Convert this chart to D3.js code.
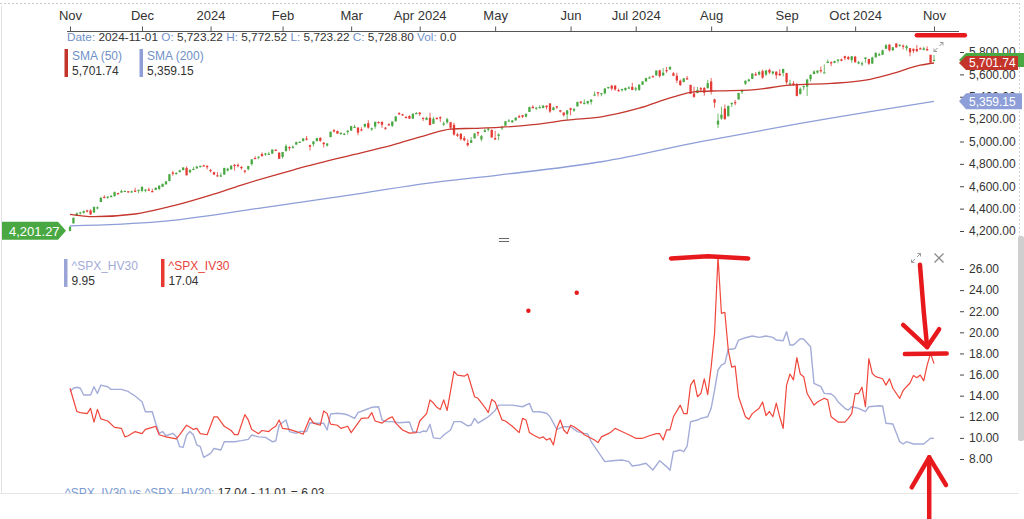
<!DOCTYPE html>
<html><head><meta charset="utf-8">
<script src="https://cdn.jsdelivr.net/npm/d3@7/dist/d3.min.js"></script>
<style>
html,body{margin:0;padding:0;background:#fff;}
svg{display:block;font-family:"Liberation Sans",Arial,Helvetica,sans-serif;}
</style></head><body>
<svg id="chart" width="1024" height="519"></svg>
<script>
// ---------- DATA ----------
// trading-day index of month starts (0 = 2023-11-01, 252 = 2024-11-01)
const monthIdx = [0,21,41,62,82,102,124,146,165,187,209,229,252];
const monthLabels = ["Nov","Dec","2024","Feb","Mar","Apr 2024","May","Jun","Jul 2024","Aug","Sep","Oct 2024","Nov"];
const priceTicks = [4200,4400,4600,4800,5000,5200,5400,5600,5800];
const volTicks = [8,10,12,14,16,18,20,22,24,26];

// ^SPX daily candles, 2023-11-01 .. 2024-11-01
const open = [
4201,4268,4334,4365,4364,4384,4384,4365,4407,4459,4504,4497,4510,4512,4539,4544,4556,4555,4550,4561,4559,
4559,4564,4571,4557,4567,4576,4594,4618,4647,4722,4715,4726,4744,4764,4725,4754,4759,4773,4786,4782,
4745,4726,4698,4690,4704,4741,4751,4792,4791,4772,4740,4753,4797,4853,4856,4888,4886,4888,4892,4926,4899,
4862,4916,4950,4950,4973,4996,5005,5027,4967,4976,5004,5032,4990,4964,5039,5101,5094,5068,5067,5085,
5098,5131,5124,5108,5133,5163,5112,5134,5174,5176,5124,5154,5140,5181,5254,5243,5219,5228,5204,5248,
5258,5212,5194,5212,5158,5211,5217,5161,5172,5172,5149,5064,5068,5031,4987,4988,5028,5084,5019,5085,5114,5103,
5030,5050,5122,5142,5188,5171,5189,5226,5235,5222,5264,5310,5303,5306,5299,5320,5340,5281,5315,5279,5259,5243,
5297,5276,5314,5357,5344,5341,5354,5410,5441,5424,5431,5477,5499,5500,5459,5461,5460,5473,5488,
5471,5461,5507,5537,5573,5584,5591,5636,5590,5638,5644,5610,5588,5544,5531,5566,5506,5429,5433,5477,5478,5476,
5537,5377,5152,5206,5294,5225,5334,5352,5376,5443,5516,5539,5560,5602,5598,5629,5598,5640,5608,5624,5606,5613,
5612,5507,5520,5508,5423,5491,5491,5557,5603,5616,5638,5617,5702,5709,5703,5721,5734,5762,5755,5727,
5758,5698,5689,5738,5737,5696,5752,5779,5775,5829,5866,5816,5876,5860,5857,5833,5834,5829,5826,5833,5819,5826,5775,
5723.22];
const high = [
4246,4320,4366,4372,4383,4391,4394,4419,4421,4505,4521,4511,4521,4553,4542,4569,4560,4557,4562,4587,4569,
4599,4574,4587,4578,4590,4610,4623,4644,4709,4738,4725,4749,4769,4778,4749,4773,4784,4785,4793,4788,
4755,4729,4727,4722,4765,4766,4791,4798,4803,4782,4744,4782,4842,4868,4866,4903,4898,4907,4929,4931,4906,
4907,4975,4958,4965,4999,5000,5030,5049,4971,5002,5033,5039,4993,4984,5089,5111,5098,5081,5077,5104,
5140,5149,5127,5128,5160,5190,5125,5179,5180,5176,5130,5164,5179,5225,5262,5247,5229,5235,5249,5264,
5263,5213,5221,5256,5222,5216,5225,5179,5212,5176,5168,5078,5077,5049,5019,5039,5077,5089,5058,5114,5123,5110,
5096,5073,5140,5181,5200,5192,5215,5239,5238,5251,5311,5325,5305,5325,5324,5324,5342,5311,5316,5281,5260,5280,
5303,5298,5354,5362,5376,5366,5376,5447,5441,5432,5477,5490,5506,5502,5472,5472,5484,5495,5524,
5490,5510,5539,5570,5583,5590,5635,5642,5656,5666,5670,5622,5614,5555,5567,5586,5508,5491,5488,5487,5487,5551,
5567,5383,5250,5312,5330,5320,5351,5371,5435,5463,5546,5562,5609,5620,5633,5643,5641,5651,5628,5628,5646,5651,
5614,5552,5540,5523,5484,5501,5560,5600,5636,5637,5670,5689,5733,5716,5722,5735,5741,5767,5765,5762,
5765,5720,5714,5752,5739,5758,5796,5794,5822,5871,5870,5846,5878,5866,5867,5863,5834,5830,5862,5842,5848,5850,5775,
5772.52];
const low = [
4197,4268,4334,4347,4354,4366,4344,4364,4393,4459,4495,4488,4500,4506,4526,4541,4552,4544,4541,4548,4537,
4547,4546,4560,4548,4565,4565,4594,4611,4643,4694,4705,4725,4743,4697,4716,4746,4758,4768,4780,4751,
4723,4700,4687,4683,4703,4731,4749,4740,4769,4747,4715,4741,4785,4844,4842,4866,4870,4881,4888,4917,4845,
4847,4908,4918,4936,4969,4988,4999,5008,4920,4956,4999,4997,4947,4955,5038,5081,5068,5058,5058,5062,
5094,5127,5057,5092,5123,5114,5095,5114,5161,5124,5105,5143,5130,5176,5240,5229,5216,5203,5204,5246,
5230,5184,5190,5146,5157,5197,5175,5138,5158,5108,5052,5040,5008,5001,4954,4987,5028,5048,5002,5084,5089,5035,
5013,5011,5102,5142,5181,5168,5185,5210,5210,5215,5263,5297,5283,5298,5298,5287,5256,5279,5291,5259,5223,5192,
5234,5265,5312,5335,5331,5331,5330,5405,5403,5404,5420,5471,5456,5454,5447,5446,5452,5471,5460,
5451,5453,5507,5535,5563,5574,5587,5571,5590,5614,5640,5584,5522,5497,5531,5551,5427,5391,5431,5445,5409,5476,
5421,5302,5120,5193,5195,5225,5308,5324,5376,5425,5505,5535,5558,5586,5591,5561,5586,5603,5597,5560,5585,5582,
5511,5504,5498,5403,5422,5459,5406,5535,5601,5605,5614,5616,5700,5674,5700,5703,5717,5727,5727,5704,
5704,5690,5675,5704,5685,5696,5751,5764,5775,5829,5804,5809,5840,5847,5824,5811,5762,5790,5799,5823,5815,5812,5703,
5723.22];
const close = [
4238,4318,4358,4366,4378,4383,4347,4415,4412,4496,4503,4508,4514,4547,4538,4557,4559,4550,4555,4551,4568,
4595,4570,4567,4549,4586,4604,4622,4644,4707,4720,4719,4741,4768,4698,4747,4755,4775,4782,4783,4770,
4743,4705,4689,4697,4764,4757,4783,4780,4784,4766,4739,4781,4840,4850,4865,4869,4894,4891,4928,4925,4846,
4906,4959,4943,4954,4995,4998,5027,5022,4953,5001,5030,5006,4976,4982,5087,5089,5070,5078,5070,5096,
5137,5131,5079,5105,5157,5124,5118,5175,5165,5150,5117,5149,5179,5225,5242,5234,5218,5204,5248,5254,
5244,5206,5211,5147,5204,5202,5210,5161,5199,5123,5062,5051,5022,5011,4967,5011,5071,5072,5048,5100,5116,5036,
5018,5064,5128,5181,5188,5188,5214,5223,5221,5247,5308,5297,5303,5308,5321,5307,5268,5305,5306,5267,5235,5278,
5283,5291,5354,5353,5347,5361,5375,5421,5434,5432,5473,5487,5473,5465,5448,5469,5478,5483,5460,
5475,5509,5537,5567,5573,5577,5634,5585,5615,5631,5667,5588,5545,5505,5564,5556,5427,5399,5459,5464,5436,5522,
5447,5347,5186,5240,5200,5319,5344,5344,5434,5455,5543,5554,5608,5597,5621,5571,5635,5617,5626,5592,5592,5648,
5529,5520,5503,5408,5471,5496,5554,5596,5626,5633,5635,5618,5714,5703,5719,5733,5722,5745,5738,5762,
5709,5710,5700,5751,5696,5751,5792,5780,5815,5860,5815,5842,5841,5865,5854,5851,5797,5810,5808,5824,5833,5814,5705,
5728.80];
const firstOpen = 4201.27;

// moving averages (trading-day index, value)
const sma50Idx = [0,7,19,29,41,50,65,80,94,104,111,118,125,135,145,155,166,176,182,189,198,210,222,232,240,248,252];
const sma50Val = [4349,4328,4352,4417,4521,4611,4745,4863,4968,5057,5111,5118,5126,5150,5191,5221,5298,5399,5444,5453,5459,5504,5519,5548,5608,5682,5701.74];
const sma200Idx = [0,26,55,85,104,125,155,184,213,252];
const sma200Val = [4245,4283,4403,4537,4626,4700,4819,4998,5162,5359.15];

// implied volatility 30d (trading-day index, value)
const ivIdx = [0,2,3,5,6,7,8,9,11,13,15,16,17,19,21,22,24,25,26,28,31,32,34,35,36,37,38,40,42,43,45,47,48,49,51,52,53,55,56,58,59,60,61,62,64,66,68,70,71,73,74,75,76,78,79,81,82,84,85,87,88,89,91,93,94,95,97,99,101,102,104,105,106,107,108,109,110,112,113,114,115,116,118,119,121,122,123,124,126,127,129,131,132,133,134,135,137,138,139,140,141,142,143,144,145,146,147,149,150,153,154,155,157,158,159,160,163,165,167,169,171,172,173,174,175,176,178,179,180,181,182,183,184,185,186,187,188,189,190,191,192,193,194,195,197,198,199,201,202,203,204,205,206,207,208,209,210,211,212,213,214,215,217,218,220,221,222,224,226,227,228,229,230,231,232,233,234,235,237,238,239,240,242,243,245,246,247,248,249,250,251,252];
const ivVal = [14.7,12.5,12.4,12.3,12.8,11.5,12.7,11.8,11.6,11.0,10.9,10.1,10.2,10.6,10.4,10.8,11.0,11.1,10.3,10.1,9.9,10.3,11.2,11.0,10.8,10.9,10.4,10.3,12.0,12.0,11.1,10.7,10.3,10.3,12.2,11.7,10.8,10.4,10.7,10.6,10.9,11.1,11.7,10.9,10.8,10.6,10.35,11.9,11.4,11.2,12.55,12.3,11.3,11.2,10.9,11.1,10.5,11.4,11.85,11.9,12.4,11.6,11.4,11.85,12.0,11.4,10.75,10.45,10.5,11.6,12.3,13.6,13.3,12.9,12.7,13.6,12.6,16.3,15.95,15.9,15.85,16.05,13.9,13.75,12.9,12.4,13.65,13.4,11.7,11.6,11.1,10.5,11.85,11.7,10.5,10.3,9.96,10.1,9.8,9.96,9.33,10.9,11.7,10.75,10.4,11.2,11.06,10.6,10.3,9.8,9.55,10.1,10.4,10.6,10.9,10.75,10.3,9.96,9.96,10.2,10.4,10.4,9.8,10.75,10.75,12.0,13.1,12.3,12.3,15.0,15.5,13.9,14.2,15.6,14.1,16.7,19.9,27.16,21.8,21.9,18.3,16.7,16.8,13.9,12.0,11.76,12.3,12.8,13.4,12.1,12.5,12.0,13.3,12.0,10.9,15.0,16.05,15.5,17.6,16.05,15.8,14.2,13.1,13.4,13.75,13.6,12.0,11.5,11.5,11.85,12.3,14.2,14.2,14.8,12.95,17.5,16.1,15.8,15.6,15.0,15.6,14.7,13.75,14.5,15.2,15.9,15.7,15.95,15.4,16.9,18.0,17.04];

// historical volatility 30d (trading-day index, value)
const hvIdx = [0,1,2,3,4,6,7,8,9,11,12,15,17,18,19,21,22,24,25,26,27,28,30,31,32,33,34,35,36,37,38,39,41,42,44,45,48,50,52,53,55,57,59,60,61,63,64,66,67,69,70,72,74,75,76,78,80,81,83,84,86,88,90,91,92,94,96,99,100,102,103,104,105,106,108,109,111,112,114,116,117,118,119,121,122,124,125,129,132,134,135,137,139,140,142,144,146,148,150,151,152,154,156,158,161,163,164,166,168,170,172,174,175,176,178,179,180,181,183,184,186,187,188,189,190,191,192,193,194,195,197,199,201,203,205,206,208,209,210,211,213,214,216,217,219,220,222,223,224,226,227,228,230,232,233,236,237,238,240,242,243,244,246,248,249,251,252];
const hvVal = [14.4,14.7,14.8,14.7,14.06,14.06,14.85,14.2,15.0,14.85,14.6,14.6,14.4,14.16,13.97,13.43,12.48,12.48,11.38,10.43,10.6,10.2,10.43,10.1,9.17,9.1,10.27,10.6,10.27,9.33,9.17,8.16,8.54,9.0,8.85,9.64,9.64,9.74,9.86,10.27,10.1,10.05,9.64,9.7,11.22,11.7,10.6,10.43,10.6,10.6,11.44,11.38,11.38,10.75,12.26,12.33,12.26,12.17,11.85,12.4,12.64,12.9,12.95,11.7,11.54,11.54,11.44,11.5,10.6,10.5,10.65,10.6,11.28,10.0,9.93,10.27,10.75,11.54,11.54,11.13,11.22,11.85,11.4,11.8,12.0,12.6,13.1,13.1,12.95,13.27,12.48,12.48,12.33,12.0,10.8,11.06,11.06,10.6,10.43,10.37,9.64,8.69,7.75,7.84,7.9,7.75,7.34,7.43,7.6,6.96,7.84,7.28,6.93,8.69,8.85,8.69,9.23,11.53,11.69,11.85,12.0,12.8,14.53,16.43,16.9,17.06,18.4,18.4,18.48,19.27,19.49,19.65,19.52,19.65,19.52,19.27,19.2,20.06,18.8,18.8,19.4,19.34,18.64,15.17,14.85,14.22,14.16,13.9,13.43,12.8,12.64,12.95,12.8,12.48,12.95,13.05,13.02,11.38,11.32,9.64,9.42,9.64,9.42,9.42,9.42,9.96,9.95];

// legend readouts
const lastDate = "2024-11-01";
const lastOHLC = {O:"5,723.22",H:"5,772.52",L:"5,723.22",C:"5,728.80",Vol:"0.0"};
const lastSma50 = 5701.74, lastSma200 = 5359.15, lastHV = 9.95, lastIV = 17.04, lastHV20 = 11.01;

// hand-drawn red marks (in data units: trading-day index, price or volatility)
const markPrice = [[[247,5950],[261,5950]]];
const markVol = [
  [[175.3,27.0],[186,27.2],[197.8,27.0]],
  [[247.9,26.4],[249,22],[250,18.6]],
  [[243.0,20.7],[250,18.6],[253.5,20.3]],
  [[243.5,17.94],[255.7,18.0]],
  [[250.6,2.3],[250.6,8.16]],
  [[245.5,5.32],[250.6,8.16],[255.5,5.54]]
];
const markDots = [[133.7,22.04],[147.8,23.75]];

// ---------- DRAW ----------
const svg = d3.select('#chart');
const FONT = '"Liberation Sans",Arial,Helvetica,sans-serif';
const x = d3.scaleLinear().domain([0,252]).range([70,934]);
const yP = d3.scaleLinear().domain([4200,5800]).range([231,52]);
const yV = d3.scaleLinear().domain([8,26]).range([459,269]);
const GREEN = '#4aa843', RED = '#e53b35';

// frame
svg.append('line').attr('x1',0).attr('x2',1020).attr('y1',3.5).attr('y2',3.5)
  .attr('stroke','#c8c8c8').attr('stroke-dasharray','2,2');
svg.append('line').attr('x1',1019.5).attr('x2',1019.5).attr('y1',3).attr('y2',236)
  .attr('stroke','#cfcfcf').attr('stroke-dasharray','2,2');
svg.append('line').attr('x1',1.5).attr('x2',1.5).attr('y1',6).attr('y2',493)
  .attr('stroke','#e2e2e2');
svg.append('rect').attr('x',1018).attr('y',236).attr('width',6).attr('height',205)
  .attr('rx',2).attr('fill','#cfcfcf');
svg.append('line').attr('x1',0).attr('x2',1019).attr('y1',493.5).attr('y2',493.5)
  .attr('stroke','#e6e6e6');

// top time axis
svg.append('line').attr('x1',67).attr('x2',959).attr('y1',31.5).attr('y2',31.5).attr('stroke','#555');
const gx = svg.append('g').attr('transform','translate(0,31.5)')
  .call(d3.axisTop(x).tickValues(monthIdx).tickFormat((d,i)=>monthLabels[i]).tickSize(5).tickPadding(7));
gx.attr('font-family',FONT).attr('font-size',13);
gx.select('.domain').remove();
gx.selectAll('line').attr('stroke','#555');
gx.selectAll('text').attr('fill','#333');

// price axis (right)
const gyP = svg.append('g').attr('transform','translate(960,0)')
  .call(d3.axisRight(yP).tickValues(priceTicks).tickFormat(d3.format(',.2f')).tickSize(4).tickPadding(5));
gyP.attr('font-family',FONT).attr('font-size',12);
gyP.select('.domain').remove();
gyP.selectAll('line').attr('stroke','#444');
gyP.selectAll('text').attr('fill','#333');

// candles
const idx = d3.range(close.length);
const gc = svg.append('g');
gc.selectAll('line').data(idx).join('line')
  .attr('x1',i=>x(i)).attr('x2',i=>x(i))
  .attr('y1',i=>yP(high[i])).attr('y2',i=>yP(low[i]))
  .attr('stroke',i=>close[i]>=open[i]?GREEN:RED).attr('stroke-width',0.8);
gc.selectAll('rect').data(idx).join('rect')
  .attr('x',i=>x(i)-1.15).attr('width',2.3)
  .attr('y',i=>yP(Math.max(open[i],close[i])))
  .attr('height',i=>Math.max(1.2,Math.abs(yP(open[i])-yP(close[i]))))
  .attr('fill',i=>close[i]>=open[i]?GREEN:RED);

// moving averages
const lineP = d3.line().x(d=>x(d[0])).y(d=>yP(d[1])).curve(d3.curveMonotoneX);
svg.append('path').datum(d3.zip(sma200Idx,sma200Val)).attr('d',lineP)
  .attr('fill','none').attr('stroke','#8d9ed8').attr('stroke-width',1.3);
svg.append('path').datum(d3.zip(sma50Idx,sma50Val)).attr('d',lineP)
  .attr('fill','none').attr('stroke','#c4372e').attr('stroke-width',1.3);

// tags
function rightTag(cy,h,xr,color,txt){
  const g = svg.append('g');
  g.append('path').attr('d',`M959,${cy}L966,${cy-h/2}H${xr}V${cy+h/2}H966Z`).attr('fill',color);
  if(txt) g.append('text').attr('x',969).attr('y',cy).attr('dy','0.36em')
    .attr('fill','#fff').attr('font-size',12).attr('font-family',FONT).text(txt);
}
const fmt2 = d3.format(',.2f');
rightTag(yP(close[close.length-1]),14,1024,GREEN,null);
rightTag(yP(lastSma50),14,1018,'#c3342b',fmt2(lastSma50));
rightTag(yP(lastSma200),16,1022,'#8d9ed8',fmt2(lastSma200));
{ // left tag with first open
  const cy = yP(firstOpen);
  svg.append('path').attr('d',`M2,${cy-9}H58L66,${cy}L58,${cy+9}H2Z`).attr('fill',GREEN);
  svg.append('text').attr('x',9).attr('y',cy).attr('dy','0.36em').attr('fill','#fff')
    .attr('font-size',13).attr('font-family',FONT).text(fmt2(firstOpen));
}

// upper legend
const LBL = '#6f90c8', VAL = '#333';
{
  const t = svg.append('text').attr('x',67).attr('y',41).attr('font-size',11.8).attr('font-family',FONT);
  const parts = [['Date: ',LBL],[lastDate+' ',VAL],['O: ',LBL],[lastOHLC.O+' ',VAL],['H: ',LBL],[lastOHLC.H+' ',VAL],
    ['L: ',LBL],[lastOHLC.L+' ',VAL],['C: ',LBL],[lastOHLC.C+' ',VAL],['Vol: ',LBL],[lastOHLC.Vol,VAL]];
  parts.forEach(p=>t.append('tspan').attr('fill',p[1]).text(p[0]));
  t.style('white-space','pre');
}
function legendItem(xb,ytop,color,label,labelColor,value){
  svg.append('rect').attr('x',xb).attr('y',ytop).attr('width',3.5).attr('height',28).attr('fill',color);
  svg.append('text').attr('x',xb+7.5).attr('y',ytop+11).attr('font-size',12).attr('font-family',FONT)
    .attr('fill',labelColor).text(label);
  svg.append('text').attr('x',xb+7.5).attr('y',ytop+26).attr('font-size',12).attr('font-family',FONT)
    .attr('fill',VAL).text(value);
}
legendItem(64.5,49,'#c3342b','SMA (50)',LBL,fmt2(lastSma50));
legendItem(139.5,49,'#8d9ed8','SMA (200)',LBL,fmt2(lastSma200));

// expand icon
function expandIcon(cx,cy){
  const g = svg.append('g').attr('stroke','#9a9a9a').attr('stroke-width',1).attr('fill','none');
  g.append('path').attr('d',`M${cx-4.5},${cy+4.5}L${cx-1},${cy+1}M${cx+1},${cy-1}L${cx+4.5},${cy-4.5}`);
  g.append('path').attr('d',`M${cx+1.5},${cy-4.5}H${cx+4.5}V${cy-1.5}M${cx-4.5},${cy+1.5}V${cy+4.5}H${cx-1.5}`);
}
expandIcon(938.5,47);

// splitter "="
svg.append('path').attr('d','M499,238.5H509M499,241.5H509').attr('stroke','#666').attr('stroke-width',1.2);

// lower panel
const gyV = svg.append('g').attr('transform','translate(960,0)')
  .call(d3.axisRight(yV).tickValues(volTicks).tickFormat(d3.format('.2f')).tickSize(4).tickPadding(5));
gyV.attr('font-family',FONT).attr('font-size',12);
gyV.select('.domain').remove();
gyV.selectAll('line').attr('stroke','#444');
gyV.selectAll('text').attr('fill','#333');

const lineV = d3.line().x(d=>x(d[0])).y(d=>yV(d[1]));
svg.append('path').datum(d3.zip(hvIdx,hvVal)).attr('d',lineV)
  .attr('fill','none').attr('stroke','#a4acd8').attr('stroke-width',1.4).attr('stroke-linejoin','round');
svg.append('path').datum(d3.zip(ivIdx,ivVal)).attr('d',lineV)
  .attr('fill','none').attr('stroke','#f0473c').attr('stroke-width',1.2).attr('stroke-linejoin','round');

legendItem(64,259,'#9aa4d6','^SPX_HV30','#a3abd8',d3.format('.2f')(lastHV));
legendItem(161,259,'#e8382f','^SPX_IV30','#e8453c',d3.format('.2f')(lastIV));

expandIcon(916,258);
svg.append('path').attr('d','M934.5,253.5L943.5,262.5M943.5,253.5L934.5,262.5')
  .attr('stroke','#8a8a8a').attr('stroke-width',1.3);

// clipped bottom readout
svg.append('clipPath').attr('id','bclip').append('rect').attr('x',0).attr('y',0).attr('width',1024).attr('height',494);
{
  const t = svg.append('text').attr('x',65).attr('y',497).attr('font-size',12).attr('font-family',FONT)
    .attr('clip-path','url(#bclip)').style('white-space','pre');
  t.append('tspan').attr('fill','#7a9ad0').text('^SPX_IV30 vs ^SPX_HV20: ');
  t.append('tspan').attr('fill','#333').text(`${lastIV.toFixed(2)} - ${lastHV20.toFixed(2)} = ${(lastIV-lastHV20).toFixed(2)}`);
}

// hand-drawn red marks
const MARK = '#e8191c';
const lp = d3.line().x(d=>x(d[0])).y(d=>yP(d[1]));
const lv = d3.line().x(d=>x(d[0])).y(d=>yV(d[1]));
markPrice.forEach(m=>svg.append('path').attr('d',lp(m)).attr('fill','none').attr('stroke',MARK)
  .attr('stroke-width',4.5).attr('stroke-linecap','round').attr('stroke-linejoin','round'));
markVol.forEach(m=>svg.append('path').attr('d',lv(m)).attr('fill','none').attr('stroke',MARK)
  .attr('stroke-width',4.5).attr('stroke-linecap','round').attr('stroke-linejoin','round'));
markDots.forEach(d=>svg.append('circle').attr('cx',x(d[0])).attr('cy',yV(d[1])).attr('r',2.2).attr('fill',MARK));
</script>
</body></html>
